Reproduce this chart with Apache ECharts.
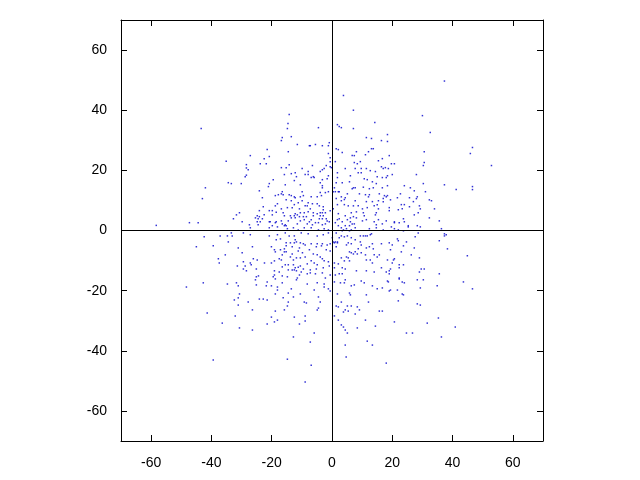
<!DOCTYPE html>
<html><head><meta charset="utf-8">
<script src="https://cdn.jsdelivr.net/npm/echarts@6/dist/echarts.min.js"></script>
<style>html,body{margin:0;padding:0;background:#fff}#c{width:640px;height:480px}</style>
</head><body><div id="c"></div>
<script>
const xTicks = [-60, -40, -20, 0, 20, 40, 60];
const yTicks = [-60, -40, -20, 0, 20, 40, 60];
const points = [
[-14.2,38.6],[-14.6,35.6],[3.8,44.9],[7.1,40],[1.8,35.2],[14.2,35.9],[30,38.2],[37.3,49.7],
[-43.4,33.9],[-42,14.2],[-43,10.6],[-58.3,1.7],[-47.3,2.6],[-44.4,2.6],[-42.4,-2.1],[-37.1,-1.8],[-45,-5.4],[-39.4,-5.1],[-35.4,-8.1],[-37.7,-9.4],[-37.4,-10.8],[-42.7,-17.4],[-48.3,-18.8],[-41.4,-27.4],[-36.4,-30.8],
[46.6,27.6],[45.9,25.6],[52.9,21.6],[37.3,15.2],[41.2,13.6],[46.6,14.6],[46.6,13.6],[35.6,3.2],[36.3,0.6],[37.3,-1.1],[37.9,-1.4],[37.3,-1.8],[35.6,-3.4],[38.3,-6.1],[44.9,-8.4],[35.6,-14.4],[43.6,-17.1],[46.6,-19.4],[35.3,-29.1],[40.9,-32.1],
[-12.8,-35.4],[-7.2,-37.1],[-39.4,-43.1],[-14.8,-42.8],[-6.9,-44.8],[-8.9,-50.4],[4.4,-38.1],[4.7,-42.1],[11.7,-36.8],[13.4,-38.1],[18,-44.1],[36.3,-35.4],
[-21.5,26.9],[-27.1,24.9],[-20.8,24.6],[-22.5,23.9],[-35.1,23],[-23.8,22.2],[-21.8,22.2],[-28.4,21.9],[-28.4,20.8],[-27.8,20.2],[-28.4,18.4],[-28.8,17.9],[-19.5,16.9],[-34.4,15.9],[-33.4,15.6],[-30.1,15.6],[-20.8,15.6],[-21.1,14.6],[-24.1,13.2],[-17.8,11.9],[-18.8,11.6],[-23.1,10.9],[-18.1,8.9],[-18.8,8.2],[-22.8,7.9],[-24.1,6.6],[-20.8,6.6],[-19.8,6.6],[-18.5,6.1],[-30.7,5.9],[-31.7,5.2],[-22.5,5.2],[-19.8,5.2],[-24.8,4.9],[-25.4,4.2],[-24.1,4.6],[-24.5,3.9],[-32.7,3.9],[-23.1,3.9],[-24.8,2.9],[-29.8,2.9],[-23.8,2.9],[-20.8,2.9],[-20.5,2.9],[-18.8,2.6],[-18.5,2.9],[-27.4,1.9],[-24.5,1.9],[-19.8,1.6],[-27.1,0.9],[-20.8,0.9],[-18.1,1.2],
[-14.8,33.9],[-4.5,34.2],[-16.5,30.9],[-16.8,29.9],[-13.5,31.2],[-0.9,29.2],[-1.2,28.2],[-11.5,28.6],[-7.5,28.2],[-7.2,28.2],[-5.5,28.6],[-3.2,28.2],[-14.5,26.2],[-1.2,25.6],[-0.6,24.2],[-0.6,22.9],[-16.8,20.9],[-14.2,21.9],[-15.2,20.9],[-6.5,21.6],[-1.9,21.6],[-0.6,21.2],[-0.2,20.9],[-9.9,20.6],[-2.6,20.6],[-12.2,19.2],[-7.9,19.6],[-3.9,19.6],[-3.2,20.2],[-15.8,18.6],[-13.5,18.9],[-8.9,18.6],[-7.9,18.6],[-6.9,17.6],[-6.2,17.9],[-5.9,17.6],[-1.2,18.2],[-11.8,17.9],[-12.5,16.6],[-1.6,17.2],[-3.2,16.9],[-3.9,15.9],[-15.5,15.2],[-10.5,15.2],[-3.2,14.9],[-3.2,14.2],[-16.5,12.9],[-9.9,12.9],[-1.2,12.9],[-2.2,12.6],[-3.9,12.6],[-16.8,12.2],[-16.2,11.9],[-14.2,11.9],[-13.5,11.6],[-12.5,11.2],[-12.2,10.9],[-10.5,11.2],[-9.5,11.6],[-6.9,11.2],[-4.9,11.2],[-3.5,11.6],[-13.5,9.9],[-15.2,10.2],[-9.9,9.9],[-11.2,9.2],[-7.9,9.2],[-6.5,8.9],[-4.9,8.9],[-8.2,8.2],[-4.2,8.2],[-2.9,7.9],[-8.9,8.2],[-12.5,8.6],[-16.8,7.2],[-14.8,7.6],[-13.2,7.6],[-10.8,7.2],[-7.2,7.2],[-2.9,6.9],[-0.6,6.6],[-16.2,5.9],[-12.2,5.6],[-11.5,5.2],[-10.5,5.9],[-9.2,5.9],[-7.9,6.2],[-6.2,5.9],[-4.9,5.6],[-3.9,5.9],[-3.2,5.9],[-2.2,5.9],[-15.8,4.9],[-13.8,4.9],[-12.5,4.9],[-10.8,4.6],[-9.5,4.6],[-8.5,4.6],[-6.2,4.9],[-3.9,4.9],[-2.9,4.9],[-13.5,4.2],[-12.2,4.2],[-4.2,3.9],[-3.2,3.9],[-1.9,3.9],[-16.8,3.2],[-14.5,3.2],[-10.5,3.2],[-9.2,3.6],[-6.9,3.6],[-4.5,2.6],[-0.9,2.9],[-1.6,3.2],[-16.5,2.2],[-15.5,1.9],[-15.8,1.6],[-15.2,1.6],[-11.5,2.2],[-8.2,2.2],[-6.5,1.9],[-5.5,2.6],[-2.2,2.2],[-12.8,0.9],[-9.2,0.9],[-6.9,0.9],[-2.6,0.6],[-11.2,0.2],[-14.8,0.6],[-1.2,0.2],[-4.5,0.2],[-3.2,1.9],[-7.5,2.9],
[2.4,34.6],[3.1,34.2],[7.1,33.9],[11.4,30.9],[13.1,30.6],[16.4,29.9],[2.1,26.9],[1.4,27.2],[3.4,25.9],[8.1,26.2],[12.1,26.2],[13.1,27.2],[13.7,27.2],[11.1,25.2],[6.7,24.9],[7.4,24.9],[16.7,23.9],[15.4,23.2],[1.1,22.9],[7.4,22.6],[9.4,22.9],[8.4,22.2],[7.7,20.6],[9.7,20.6],[11.4,20.6],[4.4,20.6],[1.8,19.2],[8.7,19.2],[9.7,19.2],[16.4,21.2],[17,20.6],[12.7,19.9],[14.4,19.6],[15,17.9],[1.8,17.6],[6.1,18.2],[16.7,17.6],[1.4,15.9],[3.4,15.9],[10.7,17.2],[11.7,16.9],[13.4,16.2],[16.7,14.2],[5.8,16.2],[14.7,15.6],[0.8,14.2],[7.1,14.2],[7.7,14.2],[10.4,14.4],[12.4,13.9],[13.7,14.2],[0.4,12.9],[1.1,12.9],[2.1,12.9],[2.4,12.9],[6.7,13.9],[5.1,12.2],[9.1,12.2],[15.7,12.2],[11.1,11.9],[12.4,11.9],[12.1,11.2],[17.4,11.6],[3.1,11.2],[4.4,10.9],[3.1,9.9],[1.4,10.6],[4.1,10.3],[7.7,9.9],[11.4,9.6],[13.4,9.6],[15.4,9.9],[17,10.6],[17,9.6],[1.8,8.6],[4.1,8.6],[5.4,8.2],[7.1,8.2],[8.7,8.2],[10.1,7.2],[11.7,7.6],[15,8.6],[14,8.2],[15.4,7.2],[0.4,7.2],[2.1,5.6],[6.4,5.9],[8.1,6.2],[10.4,5.9],[14.7,5.9],[14.4,5.2],[4.4,4.9],[7.1,4.6],[10.7,4.9],[6.1,4.2],[8.1,4.2],[1.8,3.6],[2.4,3.9],[5.1,3.6],[10.1,3.2],[11.4,3.6],[14,2.9],[15.4,3.6],[1.1,2.6],[3.4,2.9],[6.1,2.9],[6.7,2.2],[7.4,2.2],[2.1,1.6],[4.4,1.6],[5.8,1.6],[14.7,1.9],[16.7,2.2],[3.1,0.9],[4.8,0.6],[7.7,0.9],[12.4,0.6],[14.7,0.9],[3.8,0.2],[6.4,0.2],[17,0.2],
[32.6,32.6],[18.4,31.9],[18.4,29.6],[30.6,26.2],[19,24.9],[19.7,22.2],[20.7,22.2],[30.6,22.6],[30.3,21.6],[17.7,20.9],[18.7,20.6],[18.4,18.2],[20,18.6],[18,17.6],[28,18.6],[30.3,15.6],[24,14.9],[26,14.2],[18.4,14.9],[27.3,13.2],[31,12.9],[22.7,12.2],[18.4,11.6],[18,11.2],[21.7,10.9],[25.7,10.9],[28.3,11.2],[28,10.6],[27,9.6],[19.4,10.2],[32.3,10.2],[33,9.9],[23,8.6],[24,8.6],[25.7,7.9],[29,8.2],[29.3,7.2],[19,7.6],[19,6.6],[22,6.9],[34,7.2],[23.3,7.2],[28.6,5.9],[27.3,5.2],[32.3,4.2],[18,3.2],[23.7,3.9],[20.7,2.9],[20.7,2.6],[22.3,2.6],[24,2.9],[25.3,1.6],[28.3,1.6],[29.3,1.2],[19.7,1.2],[20.7,0.6],[22,0.2],[25.3,1.2],
[-34.7,-1.8],[-33.4,-0.8],[-33.1,-1.8],[-29.4,-0.8],[-27.1,-1.4],[-20.8,-1.8],[-18.1,-1.4],[-18.5,-3.1],[-34.4,-3.8],[-31.1,-5.8],[-26.4,-5.4],[-20.1,-5.4],[-19.1,-6.4],[-18.8,-7.1],[-29.8,-7.4],[-19.1,-10.1],[-26.1,-9.4],[-24.8,-9.8],[-29.4,-10.4],[-27.1,-10.8],[-26.8,-11.4],[-22.4,-10.8],[-20.1,-10.8],[-31.4,-11.8],[-28.8,-11.8],[-29.4,-12.8],[-28.4,-13.4],[-25.1,-12.8],[-19.1,-13.4],[-19.1,-14.8],[-19.5,-15.4],[-18.8,-16.1],[-25.1,-15.4],[-24.4,-15.1],[-25.4,-16.4],[-34.7,-17.8],[-31.7,-17.4],[-21.5,-17.1],[-31.1,-18.4],[-25.1,-18.1],[-21.8,-18.4],[-20.1,-18.4],[-18.1,-18.8],[-18.1,-19.8],[-18.8,-21.1],[-30.7,-21.1],[-31.1,-22.4],[-32.4,-23.1],[-24.1,-22.8],[-22.8,-22.8],[-21.5,-23.1],[-27.8,-23.8],[-31.1,-24.8],[-18.8,-26.8],[-26.4,-26.4],[-32.1,-28.4],[-20.1,-28.8],[-18.1,-29.8],[-19.1,-30.4],[-21.5,-31.1],[-30.7,-32.4],[-26.4,-33.1],
[-15.5,-0.8],[-14.2,-1.8],[-12.5,-1.8],[-7.9,-1.1],[-10.2,-0.8],[-4.9,-1.8],[-2.9,-1.4],[-1.2,-0.8],[-17.1,-2.8],[-12.2,-3.1],[-11.8,-3.8],[-15.2,-4.1],[-13.8,-4.1],[-12.5,-4.1],[-10.5,-4.1],[-9.5,-4.4],[-8.9,-4.8],[-6.9,-4.4],[-4.9,-4.4],[-3.2,-4.4],[-1.6,-4.8],[-0.6,-4.4],[-5.2,-5.4],[-3.5,-5.1],[-15.2,-5.1],[-13.2,-5.4],[-10.8,-5.8],[-15.8,-6.1],[-17.1,-6.4],[-11.2,-6.8],[-7.5,-6.4],[-1.9,-6.4],[-0.6,-6.8],[-15.8,-7.1],[-15.2,-7.1],[-13.2,-7.8],[-9.8,-7.4],[-6.2,-7.8],[-4.9,-8.1],[-16.5,-8.1],[-13.8,-8.8],[-11.8,-9.1],[-8.9,-8.8],[-3.9,-8.8],[-3.2,-9.4],[-17.5,-9.4],[-16.8,-9.8],[-12.8,-9.8],[-10.5,-9.1],[-6.9,-10.1],[-5.9,-10.8],[-2.6,-10.1],[-1.2,-10.4],[-15.5,-11.4],[-14.5,-11.4],[-12.8,-11.4],[-10.5,-11.8],[-8.2,-11.1],[-4.9,-11.4],[-0.9,-11.8],[-16.5,-12.1],[-12.2,-12.4],[-11.2,-12.2],[-9.5,-12.8],[-7.2,-13.1],[-5.2,-12.8],[-2.9,-12.4],[-14.5,-13.1],[-13.2,-13.1],[-12.5,-13.1],[-11.8,-13.4],[-10.2,-13.8],[-17.5,-13.8],[-7.2,-14.1],[-3.2,-14.1],[-5.5,-14.4],[-8.2,-14.4],[-10.8,-14.8],[-16.5,-15.1],[-0.6,-14.8],[-2.2,-15.8],[-14.8,-15.4],[-11.5,-15.8],[-11.8,-16.4],[-16.5,-17.4],[-8.2,-17.8],[-4.9,-17.4],[-2.6,-17.8],[-2.6,-18.8],[-1.2,-19.4],[-0.6,-20.1],[-5.9,-19.8],[-13.5,-19.4],[-14.5,-20.8],[-10.5,-21.1],[-12.8,-22.1],[-16.2,-22.4],[-4.5,-22.1],[-14.5,-23.8],[-8.5,-24.1],[-9.2,-23.8],[-3.9,-23.8],[-14.8,-25.1],[-4.5,-25.8],[-4.9,-26.4],[-15.8,-26.4],[-8.9,-28.4],[-12.5,-28.8],[-8.9,-30.1],[-10.8,-31.1],[-5.9,-34.1],
[1.4,-0.8],[3.1,-1.8],[2.4,-2.4],[4.1,-2.1],[5.1,-1.8],[6.4,-2.4],[7.7,-3.1],[9.4,-1.8],[10.4,-1.8],[11.1,-1.8],[11.7,-1.8],[12.7,-1.4],[13.1,-1.1],[5.8,-0.1],[3.4,-0.1],[1.8,-3.8],[0.8,-4.1],[4.8,-4.8],[5.4,-4.1],[6.4,-4.4],[9.4,-3.8],[9.7,-4.8],[13.4,-4.4],[16.4,-4.4],[1.4,-5.4],[8.7,-6.1],[11.4,-5.8],[12.4,-5.4],[13.7,-6.1],[5.8,-7.1],[6.4,-7.4],[7.1,-7.8],[7.7,-7.1],[9.7,-7.4],[8.4,-7.8],[14,-8.1],[15.7,-8.1],[11.1,-8.1],[15,-8.8],[3.1,-9.1],[5.4,-9.1],[4.8,-8.8],[4.1,-10.1],[11.4,-9.8],[12.7,-9.8],[5.8,-10.1],[13.4,-10.8],[0.8,-10.8],[2.1,-11.1],[3.4,-12.4],[0.8,-12.4],[4.4,-12.8],[8.1,-13.4],[11.4,-13.4],[14,-13.8],[16.4,-12.4],[2.4,-14.4],[3.4,-14.4],[1.1,-14.8],[4.4,-16.4],[4.1,-17.4],[0.8,-17.1],[2.8,-17.4],[9.7,-16.8],[10.7,-17.4],[7.4,-18.1],[6.4,-18.4],[13.4,-18.4],[15,-19.4],[16.7,-19.1],[5.8,-20.8],[6.1,-21.4],[1.8,-21.1],[11.4,-21.4],[12.1,-23.8],[3.1,-23.8],[1.4,-25.1],[2.1,-25.4],[5.1,-25.1],[6.4,-25.1],[4.4,-26.4],[3.8,-27.1],[5.4,-26.8],[8.4,-25.4],[9.1,-26.4],[15.7,-26.8],[16.7,-26.8],[7.7,-27.8],[11.1,-29.8],[0.8,-28.4],[2.1,-29.8],[14.4,-31.8],[3.1,-31.4],[3.8,-32.1],[4.4,-33.1],[5.1,-34.1],[8.4,-32.4],[0.4,-3.8],[1.1,-3.8],[1.8,-4.1],[0.1,-2.4],
[23.7,-0.1],[28.6,-0.8],[27.6,-2.1],[21.7,-2.8],[22,-3.4],[24.7,-3.8],[19,-4.1],[20,-4.8],[23.7,-5.1],[27.3,-5.8],[19.4,-6.4],[23,-7.1],[26.3,-8.1],[29,-9.1],[18.4,-9.8],[20.4,-9.8],[20.7,-9.4],[20,-10.8],[22.3,-11.4],[23.7,-11.4],[22.3,-12.4],[19.4,-12.8],[18,-13.8],[19,-13.4],[19,-14.4],[29.6,-12.8],[30.6,-12.8],[29,-13.8],[22.3,-15.8],[22.3,-16.1],[28.3,-16.4],[30.3,-16.4],[18.4,-16.8],[18.7,-17.1],[23.3,-17.1],[24,-17.4],[34.9,-18.4],[19.4,-19.8],[19,-20.1],[21.7,-19.8],[29.3,-19.1],[23.3,-21.1],[23.7,-21.4],[22,-23.4],[28.3,-24.4],[29.3,-24.8],[20.7,-30.4],[31.6,-30.8],[24.7,-34.1],[26.7,-34.1]
];

const chart = echarts.init(document.getElementById('c'), null, {renderer: 'canvas'});
const font = {fontFamily: 'Liberation Sans, Arial, sans-serif', fontSize: 14, color: '#000'};
const axisCommon = {
  type: 'value', min: -70, max: 70,
  splitLine: {show: false},
  axisLine: {onZero: false, lineStyle: {color: '#000', width: 1}},
};
chart.setOption({
  animation: false,
  grid: {left: 121, right: 97, top: 20, bottom: 39, containLabel: false},
  xAxis: [
    Object.assign({}, axisCommon, {position: 'bottom',
      axisTick: {inside: true, length: 6, lineStyle: {color: '#000'}, customValues: xTicks},
      axisLabel: Object.assign({margin: 15, customValues: xTicks}, font)}),
    Object.assign({}, axisCommon, {position: 'top',
      axisTick: {inside: true, length: 6, lineStyle: {color: '#000'}, customValues: xTicks},
      axisLabel: {show: false}})
  ],
  yAxis: [
    Object.assign({}, axisCommon, {position: 'left',
      axisTick: {inside: true, length: 6, lineStyle: {color: '#000'}, customValues: yTicks},
      axisLabel: Object.assign({margin: 14, customValues: yTicks}, font)}),
    Object.assign({}, axisCommon, {position: 'right',
      axisTick: {inside: true, length: 6, lineStyle: {color: '#000'}, customValues: yTicks},
      axisLabel: {show: false}})
  ],
  series: [{
    type: 'scatter',
    xAxisIndex: 0, yAxisIndex: 0,
    symbol: 'rect', symbolSize: 1.5,
    itemStyle: {color: '#0000cc'},
    data: points,
    markLine: {
      silent: true, symbol: ['none', 'none'], label: {show: false},
      lineStyle: {color: '#000', width: 1, type: 'solid'},
      data: [{xAxis: 0}, {yAxis: 0}]
    }
  }]
});
</script>
</body></html>
